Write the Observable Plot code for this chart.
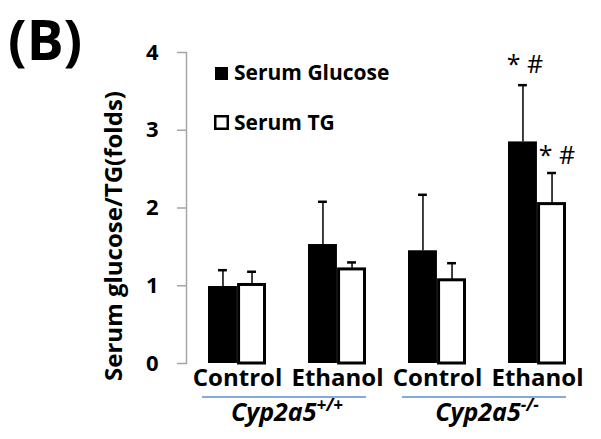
<!DOCTYPE html>
<html><head><meta charset="utf-8">
<script src="https://cdn.jsdelivr.net/npm/d3@7"></script>
<script src="https://cdn.jsdelivr.net/npm/@observablehq/plot@0.6"></script>
<style>
body{margin:0;background:#fff;}
#wrap{position:relative;width:601px;height:439px;}
</style></head><body><div id="wrap"></div>
<script>
// ---- data ----
const keys = ["WT Control", "WT Ethanol", "KO Control", "KO Ethanol"];
const treatments = ["Control", "Ethanol", "Control", "Ethanol"];
const glucose = [0.99, 1.53, 1.45, 2.85];
const glucoseSD = [0.21, 0.55, 0.72, 0.73];
const tg = [1.01, 1.21, 1.07, 2.05];
const tgSD = [0.17, 0.09, 0.22, 0.40];
const yTicks = [0, 1, 2, 3, 4];
const seriesNames = ["Serum Glucose", "Serum TG"];
const groupBase = ["Cyp2a5", "Cyp2a5"];
const groupSup = ["+/+", "-/-"];
const groupKeys = [["WT Control", "WT Ethanol"], ["KO Control", "KO Ethanol"]];
const sigGlucose = [{key: "KO Ethanol", label: "* #"}];
const sigTG = [{key: "KO Ethanol", label: "* #"}];
const yLabel = "Serum glucose/TG(folds)";
const panelLabel = "(B)";

// ---- rows ----
const gRows = keys.map((k, i) => ({key: k, value: glucose[i], top: glucose[i] + glucoseSD[i]}));
const tRows = keys.map((k, i) => ({key: k, value: tg[i], top: tg[i] + tgSD[i]}));
const topOf = (rows, k) => rows.find(r => r.key === k).top;
const sigG = sigGlucose.map(d => ({...d, top: topOf(gRows, d.key)}));
const sigT = sigTG.map(d => ({...d, top: topOf(tRows, d.key)}));

// ---- layout ----
const W = 601, H = 439, mL = 186, mR = 14, mT = 52, mB = 76;
const pInner = 0.42, pOuter = 0.21;
const step = (W - mL - mR) / (keys.length - pInner + 2 * pOuter);
const bw = step * (1 - pInner);
const half = bw / 2;
const capW = 9;
const font = "'Open Sans', sans-serif";

const chart = Plot.plot({
  width: W, height: H,
  marginLeft: mL, marginRight: mR, marginTop: mT, marginBottom: mB,
  style: {fontFamily: font, background: "white", overflow: "visible", color: "black"},
  x: {domain: keys, paddingInner: pInner, paddingOuter: pOuter, axis: null},
  y: {domain: [0, 4], axis: null},
  marks: [
    Plot.frame({anchor: "left", stroke: "#a6a6a6", strokeWidth: 1.5}),
    Plot.axisY({ticks: yTicks, tickFormat: d3.format("d"), tickSize: 9, tickPadding: 19, stroke: "#a6a6a6", strokeWidth: 1.5,
      fill: "black", fontSize: 22, fontWeight: "bold", label: null}),
    Plot.axisX({tickSize: 0, tickPadding: 5, fontSize: 24, fontWeight: "bold", label: null,
      tickFormat: d => treatments[keys.indexOf(d)]}),
    Plot.barY(gRows, {x: "key", y: "value", fill: "black", insetRight: half}),
    Plot.barY(tRows, {x: "key", y: "value", fill: "white", stroke: "black", strokeWidth: 3, insetLeft: half + 1.5, insetRight: 1.5}),
    Plot.ruleX(gRows, {x: "key", y1: "value", y2: "top", dx: -bw / 4, stroke: "black", strokeWidth: 1.5}),
    Plot.tickY(gRows, {x: "key", y: "top", insetLeft: bw / 4 - capW / 2, insetRight: 3 * bw / 4 - capW / 2, stroke: "black", strokeWidth: 2.5}),
    Plot.ruleX(tRows, {x: "key", y1: "value", y2: "top", dx: bw / 4, stroke: "black", strokeWidth: 1.5}),
    Plot.tickY(tRows, {x: "key", y: "top", insetLeft: 3 * bw / 4 - capW / 2, insetRight: bw / 4 - capW / 2, stroke: "black", strokeWidth: 2.5}),
    Plot.text(sigG, {x: "key", y: "top", text: "label", dx: -bw / 4 + 2, dy: -20, fontSize: 25, fill: "black"}),
    Plot.text(sigT, {x: "key", y: "top", text: "label", dx: bw / 4 + 5, dy: -17, fontSize: 25, fill: "black"}),
    Plot.text([yLabel], {text: d => d, frameAnchor: "left", textAnchor: "middle", rotate: -90, dx: -72, dy: 28, fontSize: 24, fontWeight: "bold", fill: "black"})
  ]
});
document.getElementById("wrap").appendChild(chart);

// ---- annotations drawn into the same svg ----
const svg = d3.select(chart);
const xs = chart.scale("x");
const txt = () => svg.append("text").attr("text-anchor", "start").attr("font-family", font).attr("fill", "black");
txt().attr("x", 8).attr("y", 60).attr("font-size", 55).attr("font-weight", "bold").text(panelLabel);

// legend
svg.append("rect").attr("x", 215).attr("y", 67).attr("width", 13).attr("height", 13).attr("fill", "black");
svg.append("rect").attr("x", 215.25).attr("y", 116.25).attr("width", 12.5).attr("height", 12.5)
  .attr("fill", "white").attr("stroke", "black").attr("stroke-width", 2.5);
[[seriesNames[0], 80], [seriesNames[1], 129.5]].forEach(([t, y]) => {
  txt().attr("x", 234).attr("y", y).attr("font-size", 21).attr("font-weight", "bold").text(t);
});

// genotype groups: blue underline + italic label
groupKeys.forEach((g, i) => {
  const x1 = xs.apply(g[0]) - 6;
  const x2 = xs.apply(g[1]) + xs.bandwidth;
  svg.append("line").attr("x1", x1).attr("x2", x2).attr("y1", 397).attr("y2", 397)
    .attr("stroke", "#5b8fd0").attr("stroke-width", 1.5);
  const cx = (xs.apply(g[0]) + xs.apply(g[1]) + xs.bandwidth) / 2;
  const t = txt().attr("x", cx).attr("y", 421).attr("text-anchor", "middle")
    .attr("font-size", 25).attr("font-weight", "bold").attr("font-style", "italic");
  t.append("tspan").text(groupBase[i]);
  t.append("tspan").attr("font-size", 17).attr("dy", -10).text(groupSup[i]);
});
</script></body></html>
